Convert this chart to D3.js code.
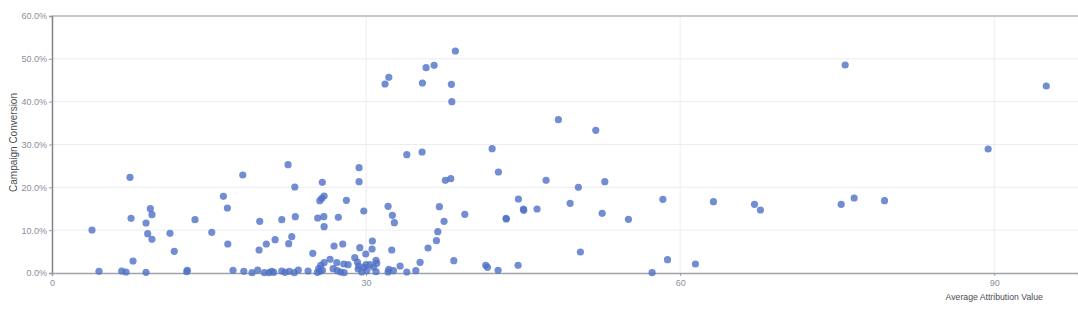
<!DOCTYPE html>
<html>
<head>
<meta charset="utf-8">
<script src="https://cdn.jsdelivr.net/npm/d3@7"></script>
<style>
  body { margin: 0; background: #fff; }
  svg text { font-family: "Liberation Sans", Arial, sans-serif; }
</style>
</head>
<body>
<div id="chart"></div>
<script>
// average attribution value per campaign
var attribution = [
  3.82, 4.49, 6.66, 7.07, 7.45, 7.55, 7.74, 8.98, 8.98, 9.14,
  9.39, 9.55, 9.55, 11.27, 11.68, 12.87, 12.93, 13.66, 15.26, 16.37,
  16.75, 16.79, 17.29, 18.22, 18.32, 19.11, 19.65, 19.78, 19.84, 20.28,
  20.73, 20.99, 21.18, 20.47, 21.31, 21.95, 21.95, 22.26, 22.55, 22.61,
  22.67, 22.90, 23.19, 23.24, 23.15, 23.53, 24.46, 24.91, 25.82, 25.58,
  25.77, 25.99, 25.38, 25.96, 25.99, 27.35, 28.12, 29.33, 29.33, 29.78,
  32.10, 32.51, 32.70, 33.89, 35.35, 36.85, 36.72, 35.92, 35.16, 34.75,
  33.89, 33.25, 32.45, 32.61, 32.17, 32.10, 30.95, 31.02, 30.95, 30.70,
  30.38, 30.57, 30.60, 29.97, 29.40, 28.92, 29.17, 29.30, 29.24, 29.81,
  30.07, 29.59, 30.00, 27.77, 26.94, 26.56, 25.99, 25.67, 25.48, 25.60,
  27.20, 27.87, 28.28, 26.85, 27.26, 27.58, 27.90, 25.35, 25.83, 37.45,
  37.00, 37.57, 38.09, 38.38, 39.43, 42.04, 42.64, 41.43, 41.59, 42.61,
  43.37, 43.40, 44.52, 44.55, 45.03, 45.06, 46.33, 47.19, 48.37, 49.49,
  50.28, 50.47, 51.94, 52.55, 52.80, 55.06, 57.32, 58.35, 58.79, 61.46,
  63.18, 67.10, 67.67, 75.38, 76.62, 79.52, 75.76, 89.42, 94.97, 31.81,
  32.17, 35.38, 35.73, 36.50, 38.15, 38.19, 38.53
];

// campaign conversion (%)
var conversion = [
  10.04, 0.40, 0.47, 0.23, 22.34, 12.77, 2.80, 0.16, 11.67, 9.17,
  15.01, 13.61, 7.87, 9.27, 5.07, 0.30, 0.63, 12.44, 9.50, 17.91,
  15.17, 6.77, 0.63, 22.88, 0.40, 0.07, 0.70, 5.37, 12.07, 0.07,
  0.07, 0.40, 0.16, 6.77, 7.77, 0.47, 12.44, 0.16, 25.28, 6.84,
  0.40, 8.47, 20.08, 13.14, 0.07, 0.70, 0.47, 4.60, 21.17, 16.88,
  17.44, 17.98, 12.84, 13.14, 10.81, 13.00, 16.97, 24.58, 21.31, 14.47,
  15.57, 13.47, 11.74, 27.62, 28.25, 9.64, 7.54, 5.84, 2.50, 0.54,
  0.23, 1.63, 5.37, 0.54, 0.86, 0.23, 2.96, 2.26, 0.30, 1.40,
  1.94, 5.60, 7.47, 4.44, 5.91, 3.57, 2.57, 1.63, 0.93, 1.33,
  0.54, 0.23, 1.94, 6.77, 6.30, 3.20, 2.40, 1.80, 1.00, 0.40,
  2.40, 2.10, 1.94, 1.00, 0.54, 0.23, 0.07, 0.16, 0.63, 12.07,
  15.48, 21.64, 22.02, 2.87, 13.70, 29.02, 23.58, 1.80, 1.33, 0.63,
  12.77, 12.61, 1.80, 17.28, 14.94, 14.64, 14.94, 21.64, 35.79, 16.27,
  20.01, 4.90, 33.31, 13.94, 21.31, 12.54, 0.07, 17.21, 3.10, 2.10,
  16.65, 16.04, 14.71, 16.04, 17.51, 16.88, 48.56, 28.95, 43.66, 44.12,
  45.69, 44.36, 47.93, 48.49, 44.05, 39.99, 51.83
];

var xTicks = [0, 30, 60, 90];
var yTicks = [0, 10, 20, 30, 40, 50, 60];

var xTitle = "Average Attribution Value";
var yTitle = "Campaign Conversion";

var width = 1078, height = 310;
var margin = { top: 16, right: 0, bottom: 37, left: 52 };

var points = attribution.map(function(d, i) { return { x: d, y: conversion[i] }; });

var svg = d3.select("#chart").append("svg")
    .attr("width", width)
    .attr("height", height);

var x = d3.scaleLinear()
    .domain([0, 98])
    .range([margin.left, width - margin.right]);

var y = d3.scaleLinear()
    .domain([0, 60])
    .range([height - margin.bottom, margin.top]);

// grid lines
svg.append("g")
    .selectAll("line")
    .data(yTicks.slice(1, -1))
    .join("line")
    .attr("x1", x(0)).attr("x2", width)
    .attr("y1", function(d) { return y(d); })
    .attr("y2", function(d) { return y(d); })
    .attr("stroke", "#ebedf3")
    .attr("stroke-width", 1);

svg.append("g")
    .selectAll("line")
    .data(xTicks.slice(1))
    .join("line")
    .attr("x1", function(d) { return x(d); })
    .attr("x2", function(d) { return x(d); })
    .attr("y1", y(60)).attr("y2", y(0))
    .attr("stroke", "#ebedf3")
    .attr("stroke-width", 1);

// top border
svg.append("line")
    .attr("x1", x(0)).attr("x2", width)
    .attr("y1", y(60)).attr("y2", y(60))
    .attr("stroke", "#c8c8cc")
    .attr("stroke-width", 2);

// y axis
var yAxis = d3.axisLeft(y)
    .tickValues(yTicks)
    .tickSize(3)
    .tickPadding(2)
    .tickFormat(function(d) { return d.toFixed(1) + "%"; });

var gy = svg.append("g")
    .attr("transform", "translate(" + x(0) + ",0)")
    .call(yAxis);
gy.select(".domain").attr("stroke", "#80838a").attr("stroke-width", 1.5);
gy.selectAll(".tick line").attr("stroke", "#9a9ca3");
gy.selectAll(".tick text")
    .attr("fill", "#8a8f9c")
    .style("font-size", "9px");

// x axis
var xAxis = d3.axisBottom(x)
    .tickValues(xTicks)
    .tickSize(3)
    .tickPadding(4);

var gx = svg.append("g")
    .attr("transform", "translate(0," + y(0) + ")")
    .call(xAxis);
gx.select(".domain").attr("stroke", "#a0a2a8").attr("stroke-width", 1.5);
gx.selectAll(".tick line").attr("stroke", "#9a9ca3");
gx.selectAll(".tick text")
    .attr("fill", "#8a8f9c")
    .style("font-size", "9px");

// axis titles
svg.append("text")
    .attr("transform", "translate(17," + (y(30) - 2) + ") rotate(-90)")
    .attr("text-anchor", "middle")
    .attr("fill", "#4a4d55")
    .style("font-size", "10px")
    .text(yTitle);

svg.append("text")
    .attr("x", x(90))
    .attr("y", 300)
    .attr("text-anchor", "middle")
    .attr("fill", "#4a4d55")
    .style("font-size", "8.7px")
    .text(xTitle);

// points
svg.append("g")
    .selectAll("circle")
    .data(points)
    .join("circle")
    .attr("cx", function(d) { return x(d.x); })
    .attr("cy", function(d) { return y(d.y); })
    .attr("r", 3.6)
    .attr("fill", "#4f70c6")
    .attr("fill-opacity", 0.8);
</script>
</body>
</html>
